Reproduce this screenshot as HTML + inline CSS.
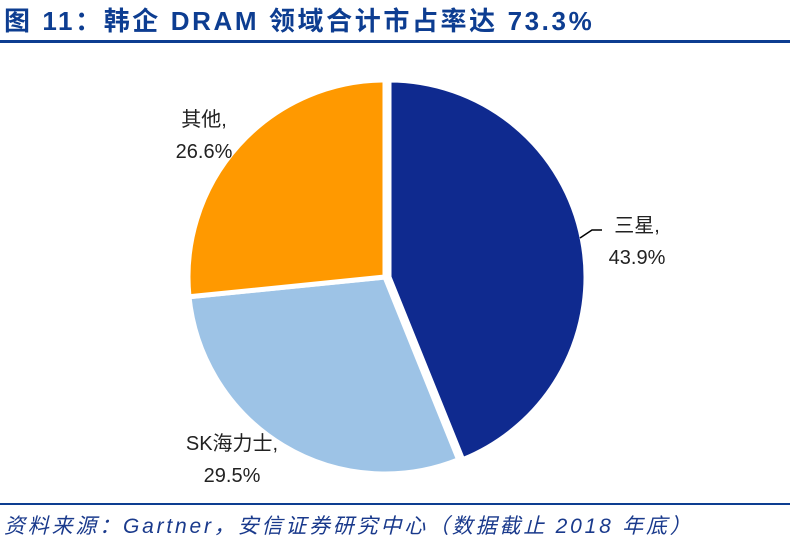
<!DOCTYPE html>
<html><head><meta charset="utf-8"><style>
body{margin:0;background:#fff;width:790px;height:541px;overflow:hidden;position:relative;font-family:"Liberation Sans","Noto Sans CJK SC",sans-serif}
#title{position:absolute;left:4px;top:1px;font-size:26px;font-weight:bold;color:#0d3d91;white-space:nowrap;letter-spacing:2.6px}
#tline{position:absolute;left:0;top:40px;width:790px;height:3px;background:#0d3d91}
#bline{position:absolute;left:0;top:503px;width:790px;height:2px;background:#0d3d91}
#src{position:absolute;left:4px;top:510px;font-size:21px;font-style:italic;color:#1a3a8c;white-space:nowrap;letter-spacing:2.8px}
svg{position:absolute;left:0;top:0}
</style></head><body>
<div id="title">图 11：韩企 DRAM 领域合计市占率达 73.3%</div>
<div id="tline"></div>
<svg id="chart" width="790" height="541"></svg>
<div id="bline"></div>
<div id="src">资料来源：Gartner，安信证券研究中心（数据截止 2018 年底）</div>
<script>
const categories=["三星","SK海力士","其他"];
const values=[43.9,29.5,26.6];
const colors=["#0f2a8f","#9dc3e6","#ff9900"];
const labelPos=[[637,232],[232,450],[204,126]];
const offsets=[[4,0],[0,0],[0,0]];
const svg=document.getElementById('chart');
const NS='http://www.w3.org/2000/svg';
const cx=385,cy=277,r=197;
const total=values.reduce((a,b)=>a+b,0);
let a0=0;
values.forEach((v,i)=>{
  const a1=a0+v/total*2*Math.PI;
  const ox=cx+offsets[i][0],oy=cy+offsets[i][1];
  const p0=[ox+r*Math.sin(a0),oy-r*Math.cos(a0)],p1=[ox+r*Math.sin(a1),oy-r*Math.cos(a1)];
  const large=(a1-a0)>Math.PI?1:0;
  const p=document.createElementNS(NS,'path');
  p.setAttribute('d',`M${ox},${oy} L${p0[0]},${p0[1]} A${r},${r} 0 ${large} 1 ${p1[0]},${p1[1]} Z`);
  p.setAttribute('fill',colors[i]);
  p.setAttribute('stroke','#fff');
  p.setAttribute('stroke-width','5');
  p.setAttribute('stroke-linejoin','round');
  
  
  svg.appendChild(p);
  const t=document.createElementNS(NS,'text');
  t.setAttribute('x',labelPos[i][0]);t.setAttribute('y',labelPos[i][1]);
  t.setAttribute('text-anchor','middle');
  t.setAttribute('font-size','20');t.setAttribute('fill','#222');
  t.setAttribute('font-family','"Liberation Sans","Noto Sans CJK SC",sans-serif');
  
  
  const s1=document.createElementNS(NS,'tspan');s1.setAttribute('x',labelPos[i][0]);s1.textContent=categories[i]+',';
  const s2=document.createElementNS(NS,'tspan');s2.setAttribute('x',labelPos[i][0]);s2.setAttribute('dy','32');s2.textContent=values[i].toFixed(1)+'%';
  t.appendChild(s1);t.appendChild(s2);svg.appendChild(t);
  a0=a1;
});
const l=document.createElementNS(NS,'polyline');
l.setAttribute('points','580,238 592,230 602,230');
l.setAttribute('fill','none');l.setAttribute('stroke','#000');l.setAttribute('stroke-width','1.5');


svg.appendChild(l);
</script>
</body></html>
